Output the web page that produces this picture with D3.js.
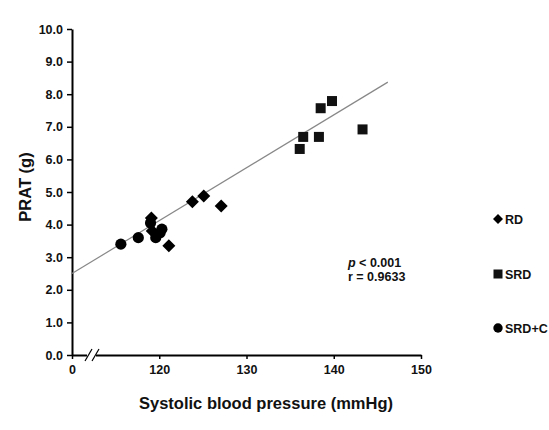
<!DOCTYPE html>
<html><head><meta charset="utf-8">
<script src="https://cdn.jsdelivr.net/npm/d3@7"></script>
<style>body{margin:0;background:#fff}svg{display:block}text{font-family:"Liberation Sans",Arial,sans-serif}</style>
</head><body>
<script>
const rdX = [119.1, 119.2, 121.1, 123.8, 125.1, 127.1];
const rdY = [4.2, 3.8, 3.35, 4.7, 4.88, 4.57];
const srdX = [136.1, 136.5, 138.3, 138.5, 139.8, 143.3];
const srdY = [6.32, 6.69, 6.69, 7.57, 7.79, 6.92];
const srdcX = [115.6, 117.6, 119.0, 119.6, 120.3, 120.1];
const srdcY = [3.4, 3.6, 4.05, 3.6, 3.86, 3.75];
const fitX = [110, 146.2];
const fitY = [2.5, 8.37];
const xTicks = [110, 120, 130, 140, 150];
const xTickLabels = ["0", "120", "130", "140", "150"];
const yTicks = [0,1,2,3,4,5,6,7,8,9,10];
const legendLabels = ["RD", "SRD", "SRD+C"];

const W = 549, H = 430;
const svg = d3.select("body").append("svg").attr("width", W).attr("height", H);
const x = d3.scaleLinear().domain([110,150]).range([72,421]);
const y = d3.scaleLinear().domain([0,10]).range([355,29]);

// axes
const yAxis = svg.append("g").attr("transform","translate(72,0)")
  .call(d3.axisLeft(y).tickValues(yTicks).tickFormat(d3.format(".1f")).tickSize(5).tickSizeOuter(0));
const xAxis = svg.append("g").attr("transform","translate(0,355)")
  .call(d3.axisBottom(x).tickValues(xTicks).tickFormat((d,i)=>xTickLabels[i]).tickSize(4).tickSizeOuter(0));
[yAxis,xAxis].forEach(g=>{
  g.select(".domain").attr("stroke","#000").attr("stroke-width",2);
  g.selectAll(".tick line").attr("stroke","#000").attr("stroke-width",1.5);
  g.selectAll(".tick text").attr("fill","#111").attr("font-size",12.5).attr("font-weight","bold")
   .style("font-family",'"Liberation Sans",Arial,sans-serif');
});
yAxis.selectAll(".tick text").attr("x",-9);
xAxis.selectAll(".tick text").attr("y",10);

// axis break
svg.append("rect").attr("x",87).attr("y",351).attr("width",9).attr("height",8).attr("fill","#fff");
[87,94].forEach(bx=>{
  svg.append("line").attr("x1",bx-2).attr("y1",361).attr("x2",bx+5).attr("y2",349)
    .attr("stroke","#000").attr("stroke-width",1.2);
});

// fit line
svg.append("line").attr("x1",x(fitX[0])).attr("y1",y(fitY[0])).attr("x2",x(fitX[1])).attr("y2",y(fitY[1]))
  .attr("stroke","#888").attr("stroke-width",1.2);

// markers
function drawDiamond(g, cx, cy, s){
  g.append("path").attr("d",`M${cx},${cy-s}L${cx+s},${cy}L${cx},${cy+s}L${cx-s},${cy}Z`).attr("fill","#000");
}
const gp = svg.append("g");
srdcX.forEach((v,i)=>gp.append("circle").attr("cx",x(v)).attr("cy",y(srdcY[i])).attr("r",5.6).attr("fill","#000"));
rdX.forEach((v,i)=>drawDiamond(gp, x(v), y(rdY[i]), 6.5));
srdX.forEach((v,i)=>gp.append("rect").attr("x",x(v)-5).attr("y",y(srdY[i])-5).attr("width",10).attr("height",10).attr("fill","#111"));

// stats
const st = svg.append("text").attr("x",348).attr("y",267).attr("font-size",12.5).attr("font-weight","bold").attr("fill","#111");
st.append("tspan").attr("font-style","italic").text("p");
st.append("tspan").text(" < 0.001");
svg.append("text").attr("x",348).attr("y",281).attr("font-size",12.5).attr("font-weight","bold").attr("fill","#111").text("r = 0.9633");

// legend
const ly = [219, 274, 328];
drawDiamond(svg, 498, ly[0], 5);
svg.append("rect").attr("x",493.5).attr("y",ly[1]-4.5).attr("width",9).attr("height",9).attr("fill","#111");
svg.append("circle").attr("cx",498).attr("cy",ly[2]).attr("r",4.7).attr("fill","#000");
legendLabels.forEach((t,i)=>svg.append("text").attr("x",505).attr("y",ly[i]+4.5).attr("font-size",12.5).attr("font-weight","bold").attr("fill","#111").text(t));

// axis titles
svg.append("text").attr("x",266).attr("y",409).attr("text-anchor","middle").attr("font-size",16.5).attr("font-weight","bold").attr("fill","#111").text("Systolic blood pressure (mmHg)");
svg.append("text").attr("transform","translate(31,187) rotate(-90)").attr("text-anchor","middle").attr("font-size",16.5).attr("font-weight","bold").attr("fill","#111").text("PRAT (g)");
</script>
</body></html>
